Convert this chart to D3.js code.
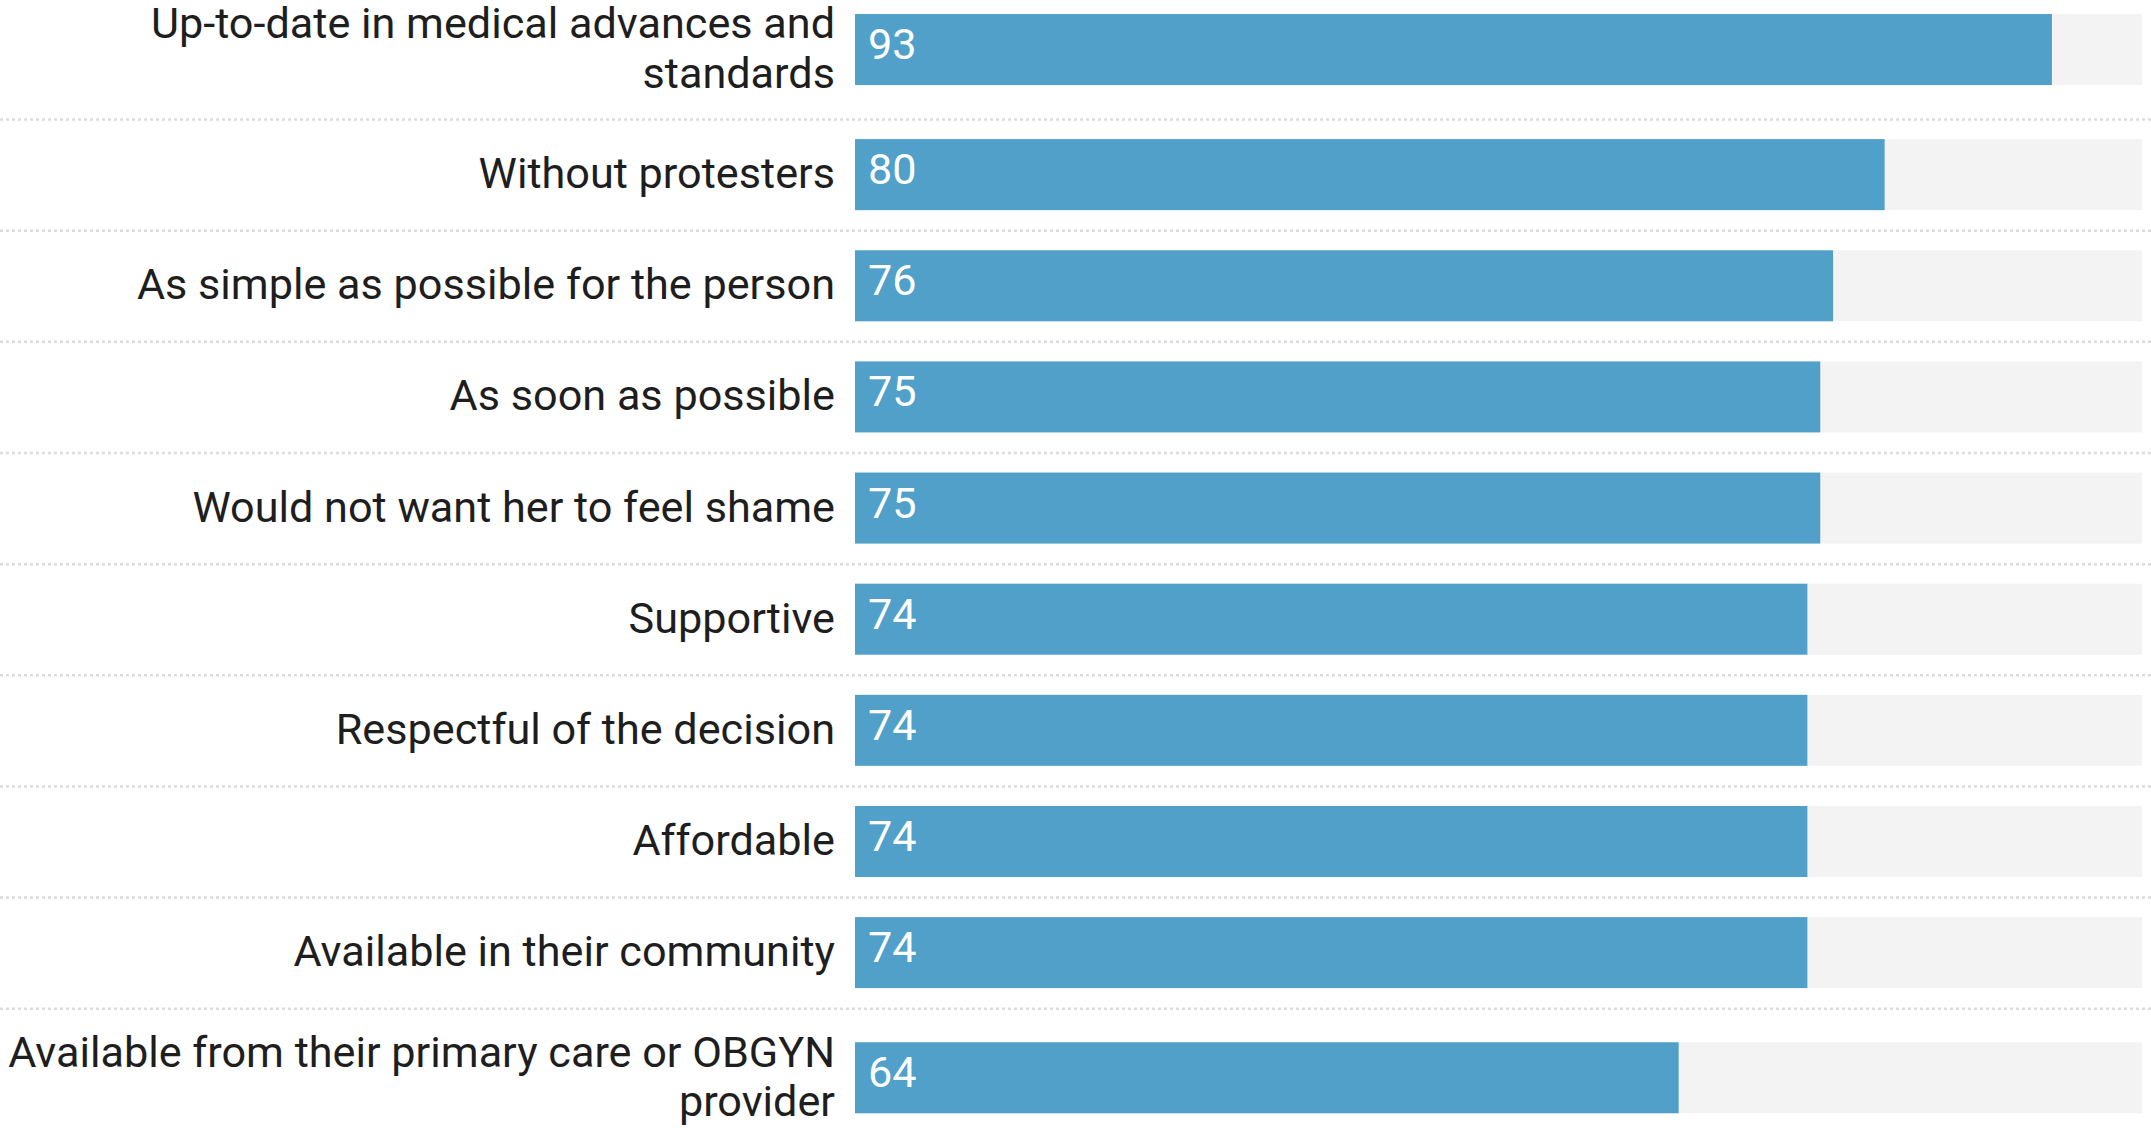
<!DOCTYPE html>
<html lang="en">
    <head>
        <meta charset="utf-8" />
        <script src="https://d3js.org/d3.v7.min.js"></script>
        <title>Bar Chart</title>
        <style>
            html, body { margin: 0; padding: 0; background: #fff; overflow: hidden; }
            svg { display: block; }
        </style>
    </head>
    <body>
        <div id="container"></div>
        <script>
            // data
            const categories = [
                'Up-to-date in medical advances and\nstandards',
                'Without protesters',
                'As simple as possible for the person',
                'As soon as possible',
                'Would not want her to feel shame',
                'Supportive',
                'Respectful of the decision',
                'Affordable',
                'Available in their community',
                'Available from their primary care or OBGYN\nprovider'
            ];
            const values = [93, 80, 76, 75, 75, 74, 74, 74, 74, 64];
            const maxValue = 100;

            document.addEventListener('DOMContentLoaded', () => {
                const width = 2151;
                const height = 1128;
                const barLeft = 855;
                const barRight = 2142;
                const barHeight = 71;
                const pad = 20.07;
                const lineHeight = 49.5;
                const fontSize = 43.2;

                const rows = categories.map((c, i) => ({
                    lines: c.split('\n'),
                    value: values[i]
                }));

                // row layout: label block vs bar, whichever is taller
                let y = 14 - pad - (rows[0].lines.length * lineHeight - barHeight) / 2;
                rows.forEach(r => {
                    const block = Math.max(barHeight, r.lines.length * lineHeight);
                    r.top = y;
                    r.barY = y + pad + (block - barHeight) / 2;
                    r.mid = r.barY + barHeight / 2;
                    y += block + pad * 2;
                    r.bottom = y;
                });

                const x = d3.scaleLinear()
                            .domain([0, maxValue])
                            .range([barLeft, barRight]);

                const svg = d3.select('#container')
                              .append('svg')
                              .attr('width', width)
                              .attr('height', height)
                              .style('font-family', 'Roboto, sans-serif');

                // dotted separators
                svg.selectAll('line.sep')
                   .data(rows.slice(0, -1))
                   .enter()
                   .append('line')
                   .attr('class', 'sep')
                   .attr('x1', 0)
                   .attr('x2', width)
                   .attr('y1', d => d.bottom + 0.5)
                   .attr('y2', d => d.bottom + 0.5)
                   .attr('stroke', '#dcdcdc')
                   .attr('stroke-width', 2.5)
                   .attr('stroke-dasharray', '3,3');

                const row = svg.selectAll('g.row')
                               .data(rows)
                               .enter()
                               .append('g')
                               .attr('class', 'row');

                row.append('rect')
                   .attr('x', x(0))
                   .attr('y', d => d.barY)
                   .attr('width', x(maxValue) - x(0))
                   .attr('height', barHeight)
                   .attr('fill', '#f3f3f3');

                row.append('rect')
                   .attr('x', x(0))
                   .attr('y', d => d.barY)
                   .attr('width', d => x(d.value) - x(0))
                   .attr('height', barHeight)
                   .attr('fill', '#50a0c9');

                row.append('text')
                   .attr('x', x(0) + 13)
                   .attr('y', d => d.mid + 9.5)
                   .attr('fill', '#fff')
                   .style('font-size', fontSize + 'px')
                   .text(d => d.value);

                const label = row.append('text')
                                 .attr('text-anchor', 'end')
                                 .attr('fill', '#1e1e1e')
                                 .style('font-size', fontSize + 'px');

                label.selectAll('tspan')
                     .data(d => d.lines.map((l, i) => ({
                         text: l,
                         y: d.mid + 13.5 + (i - (d.lines.length - 1) / 2) * lineHeight
                     })))
                     .enter()
                     .append('tspan')
                     .attr('x', barLeft - 20)
                     .attr('y', d => d.y)
                     .text(d => d.text);
            });
        </script>
    </body>
</html>
